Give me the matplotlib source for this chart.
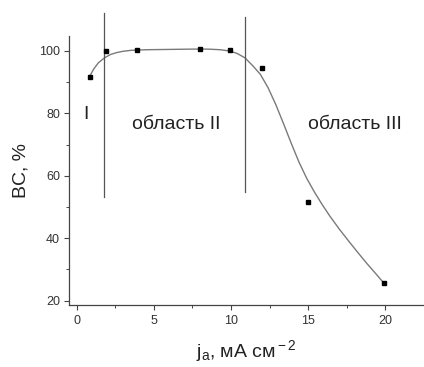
import matplotlib
matplotlib.use("Agg")
import matplotlib.pyplot as plt
from matplotlib.ticker import MultipleLocator

plt.rcParams['font.family'] = ['Liberation Sans', 'DejaVu Sans']
plt.rcParams['mathtext.fontset'] = 'custom'
plt.rcParams['mathtext.rm'] = 'Liberation Sans'
plt.rcParams['mathtext.it'] = 'Liberation Sans'

# measured points
j_pts = [0.85, 1.9, 3.9, 8.0, 9.9, 12.0, 15.0, 19.9]
bc_pts = [91.8, 100.0, 100.3, 100.5, 100.3, 94.7, 51.7, 25.5]

# fitted curve
j_fit = [0.85, 1.1, 1.4, 1.8, 2.2, 2.6, 3.0, 3.5, 4.5, 6.0, 7.5, 8.5, 9.3, 9.9,
         10.4, 10.9, 11.4, 11.9, 12.4, 12.9, 13.4, 13.9, 14.4, 14.9, 15.4,
         15.9, 16.4, 17.0, 17.6, 18.2, 18.8, 19.4, 19.9]
bc_fit = [92.0, 94.2, 96.2, 97.8, 98.9, 99.5, 99.9, 100.2, 100.4, 100.5, 100.6, 100.6,
          100.4, 100.0, 99.2, 97.8, 95.3, 92.5, 88.2, 82.8, 76.7, 70.4, 64.4, 59.2,
          54.8, 50.8, 47.1, 43.0, 39.2, 35.5, 31.9, 28.5, 25.6]

# region borders
border_x = [1.75, 10.9]
border_bottom = [53.3, 54.8]
border_top = [112.2, 110.8]

region_labels = ['I', 'область II', 'область III']
region_x = [0.45, 3.6, 15.0]
region_y = [79.6, 76.6, 76.6]

fig = plt.figure(figsize=(4.24, 3.67), dpi=100)
ax = fig.add_axes([69/424, 62/367, 355/424, 269/367])

ax.plot(j_fit, bc_fit, color='#7a7a7a', lw=1.0, zorder=2)
ax.plot(j_pts, bc_pts, ls='none', marker='s', ms=2.2, color='black', zorder=3)
for x, b, t in zip(border_x, border_bottom, border_top):
    ax.plot([x, x], [b, t], color='#555555', lw=0.9, clip_on=False, zorder=2)

for lab, x, y in zip(region_labels, region_x, region_y):
    ax.text(x, y, lab, fontsize=14, color='#222222', ha='left', va='center')

ax.set_xlim(-0.5, 22.5)
ax.set_ylim(18.6, 104.8)
ax.xaxis.set_major_locator(MultipleLocator(5))
ax.xaxis.set_minor_locator(MultipleLocator(2.5))
ax.yaxis.set_major_locator(MultipleLocator(20))
ax.yaxis.set_minor_locator(MultipleLocator(10))

for s in ['top', 'right']:
    ax.spines[s].set_visible(False)
for s in ['left', 'bottom']:
    ax.spines[s].set_color('#444444')
    ax.spines[s].set_linewidth(0.9)

ax.tick_params(which='major', direction='out', length=3.5, width=0.8,
               color='#444444', labelsize=9, labelcolor='#333333')
ax.tick_params(which='minor', direction='out', length=2, width=0.7, color='#444444')
ax.tick_params(axis='x', pad=4)
ax.tick_params(axis='y', pad=3)

ax.set_ylabel('BC, %', fontsize=14, color='#222222', labelpad=7)
ax.set_xlabel('j$_{\\rm a}$, мА см$^{\\rm -2}$', fontsize=14, color='#222222', labelpad=8)

fig.savefig('out.png', dpi=100)
